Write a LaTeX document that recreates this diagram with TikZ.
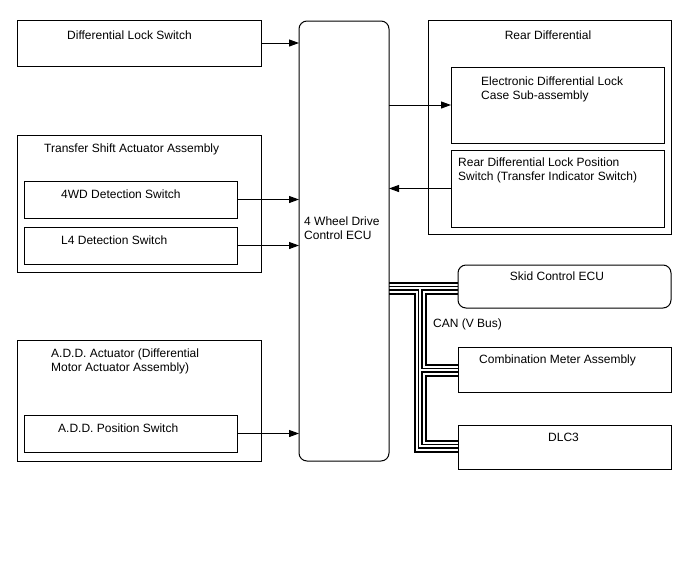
\documentclass[tikz,border=0pt]{standalone}
\usepackage{fontspec}
\setmainfont{Liberation Sans}
\usetikzlibrary{arrows.meta,backgrounds}
\begin{document}
\begin{tikzpicture}[x=1pt,y=-1pt,
  box/.style={draw,line width=1pt,anchor=north west,inner sep=0pt,outer sep=0pt},
  rbox/.style={box,rounded corners=8pt},
  lbl/.style={anchor=base west,inner sep=0pt,font=\fontsize{12}{14}\selectfont,align=left},
  clbl/.style={lbl,anchor=base},
  arr/.style={line width=1pt,-{Triangle[length=10pt,width=7pt]}},
  busline/.style={line width=#1},
]
\useasboundingbox (0,0) rectangle (688,560);

% boxes
\node[box,minimum width=244pt,minimum height=46pt] (dls) at (17,20) {};
\node[rbox,minimum width=90pt,minimum height=440pt] (ecu) at (299,21) {};
\node[box,minimum width=243pt,minimum height=214pt] (rd) at (428,20) {};
\node[box,minimum width=213pt,minimum height=76pt] (edlc) at (451,67) {};
\node[box,minimum width=213pt,minimum height=77pt] (rdlps) at (451,150) {};
\node[box,minimum width=244pt,minimum height=137pt] (tsa) at (17,135) {};
\node[box,minimum width=213pt,minimum height=37pt] (wd4) at (24,181) {};
\node[box,minimum width=213pt,minimum height=37pt] (l4) at (24,227) {};
\node[box,minimum width=244pt,minimum height=121pt] (add) at (17,340) {};
\node[box,minimum width=213pt,minimum height=37pt] (addps) at (24,415) {};
\node[rbox,minimum width=213pt,minimum height=43pt] (skid) at (458,265) {};
\node[box,minimum width=213pt,minimum height=45pt] (comb) at (458,347) {};
\node[box,minimum width=213pt,minimum height=44pt] (dlc) at (458,425) {};

% texts
\node[lbl] (tdls) at (67,39) {Differential Lock Switch};
\node[clbl] (trd) at (548,39) {Rear Differential};
\node[lbl] (tedlc) at (481,99) {Electronic Differential Lock\\Case Sub-assembly};
\node[lbl] (trdlps) at (458,180) {Rear Differential Lock Position\\Switch (Transfer Indicator Switch)};
\node[lbl] (ttsa) at (44,152) {Transfer Shift Actuator Assembly};
\node[lbl] (twd4) at (61,198) {4WD Detection Switch};
\node[lbl] (tl4) at (61,244) {L4 Detection Switch};
\node[lbl] (tecu) at (304,239) {4 Wheel Drive\\Control ECU};
\node[lbl] (tadd) at (51,371) {A.D.D. Actuator (Differential\\Motor Actuator Assembly)};
\node[lbl] (taddps) at (58,432) {A.D.D. Position Switch};
\node[clbl] (tskid) at (557,280) {Skid Control ECU};
\node[lbl] (tcan) at (433,327) {CAN (V Bus)};
\node[lbl] (tcomb) at (479,363) {Combination Meter Assembly};
\node[lbl] (tdlc) at (548,441) {DLC3};

% arrows
\draw[arr] (dls.east) -- (dls.east -| ecu.west);
\draw[arr] (wd4.east) -- (wd4.east -| ecu.west);
\draw[arr] (l4.east) -- (l4.east -| ecu.west);
\draw[arr] (addps.east) -- (addps.east -| ecu.west);
\draw[arr] (edlc.west -| ecu.east) -- (edlc.west);
\draw[arr] (rdlps.west) -- (rdlps.west -| ecu.east);

% CAN bus (under the boxes)
\coordinate (b1) at (ecu.east |- 0,288);
\coordinate (b2) at (skid.west |- 0,288);
\coordinate (b3) at (420,288);
\coordinate (b4) at (420,446);
\coordinate (b5) at (dlc.west |- 0,446);
\coordinate (b6) at (420,370);
\coordinate (b7) at (comb.west |- 0,370);
\begin{pgfonlayer}{background}
\fill[white] (0,0) rectangle (688,560);
\foreach \w/\c in {13/black,9/white,5/black,2.6/white}{
  \draw[busline=\w pt,color=\c] (b1) -- (b2) (b3) -- (b4) -- (b5) (b6) -- (b7);
}
\end{pgfonlayer}
\end{tikzpicture}
\end{document}
